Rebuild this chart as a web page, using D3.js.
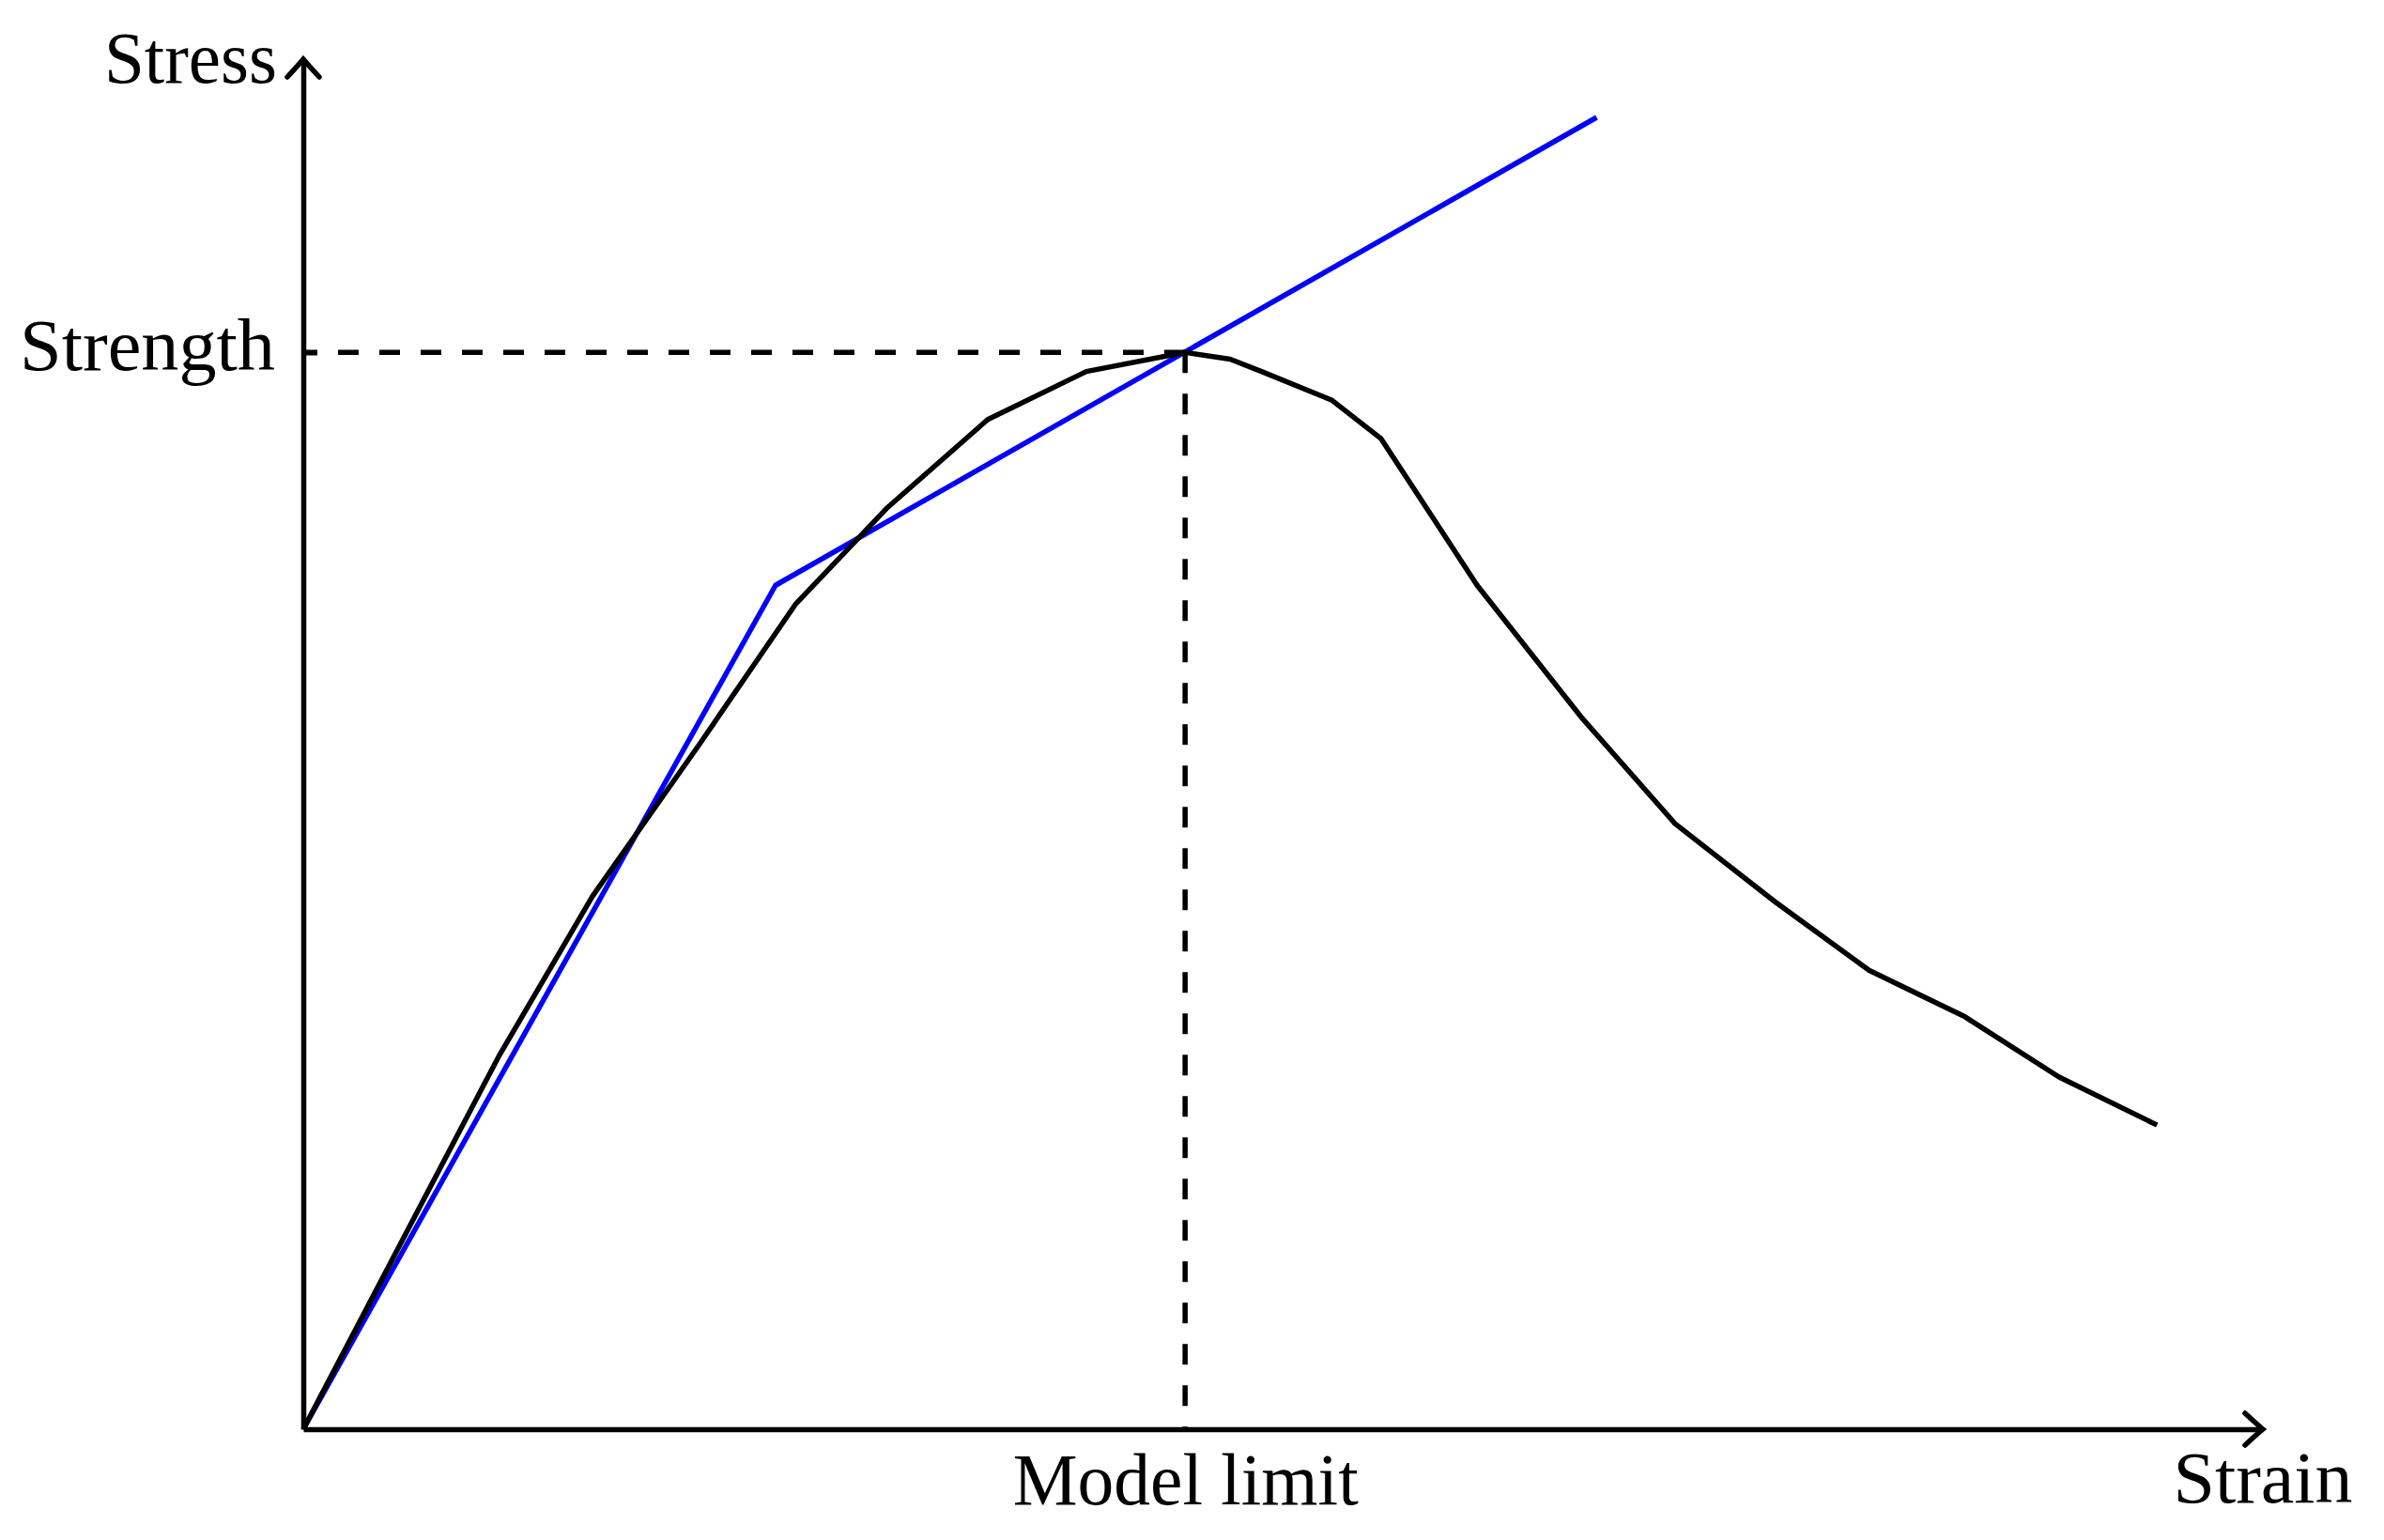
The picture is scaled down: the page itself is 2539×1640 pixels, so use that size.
<!DOCTYPE html>
<html>
<head>
<meta charset="utf-8">
<script src="https://cdn.jsdelivr.net/npm/d3@7"></script>
<style>
  html, body { margin: 0; padding: 0; background: #fff; }
  svg { display: block; }
  text { font-family: "Liberation Serif", "Times New Roman", serif; fill: #000; }
</style>
</head>
<body>
<svg id="chart" width="2539" height="1640"></svg>
<script>
// ---- Data (arbitrary units) ----
const measuredStrain = [0, 9.97, 14.76, 20.22, 25.11, 29.76, 34.93, 39.96, 45.0, 47.3, 48.9, 52.5, 55.0, 59.9, 65.2, 70.0, 75.1, 79.9, 84.8, 89.6, 94.6];
const measuredStress = [0, 27.2, 38.9, 50.0, 60.2, 67.2, 73.7, 77.2, 78.6, 78.1, 77.2, 75.1, 72.3, 61.6, 52.0, 44.2, 38.5, 33.5, 30.1, 25.7, 22.2];

const modelStrain = [0, 24.1, 66.0];
const modelStress = [0, 61.6, 95.75];

const strengthValue = 78.6;
const modelLimitValue = 45.0;

const axisLabels = { x: "Strain", y: "Stress" };
const yTickLabels = ["Strength"];
const xTickLabels = ["Model limit"];

const strainMax = 100;
const stressMax = 100;

// ---- Layout ----
const svg = d3.select("#chart");
const FS = 78;
const LW = 5.5;
const x = d3.scaleLinear().domain([0, strainMax]).range([323, 2410]);
const y = d3.scaleLinear().domain([0, stressMax]).range([1522, 63]);

svg.append("rect").attr("width", 2539).attr("height", 1640).attr("fill", "#fff");

const line = d3.line().x(d => x(d[0])).y(d => y(d[1]));

// Dashed guide lines
svg.append("path")
  .attr("d", line([[0, strengthValue], [modelLimitValue, strengthValue]]))
  .attr("fill", "none").attr("stroke", "#000").attr("stroke-width", LW)
  .attr("stroke-dasharray", "22,22").attr("stroke-dashoffset", 7);
svg.append("path")
  .attr("d", line([[modelLimitValue, strengthValue], [modelLimitValue, 0]]))
  .attr("fill", "none").attr("stroke", "#000").attr("stroke-width", LW)
  .attr("stroke-dasharray", "22,22");

// Model (blue) line
svg.append("path")
  .attr("d", line(modelStrain.map((s, i) => [s, modelStress[i]])))
  .attr("fill", "none").attr("stroke", "#0000ff").attr("stroke-width", LW)
  .attr("stroke-linejoin", "round");

// Measured (black) curve
svg.append("path")
  .attr("d", line(measuredStrain.map((s, i) => [s, measuredStress[i]])))
  .attr("fill", "none").attr("stroke", "#000").attr("stroke-width", LW)
  .attr("stroke-linejoin", "round");

// Axes
const yAxis = d3.axisLeft(y)
  .tickValues([strengthValue])
  .tickFormat((d, i) => yTickLabels[i])
  .tickSizeInner(-15).tickSizeOuter(0).tickPadding(30);
const gy = svg.append("g").attr("transform", `translate(${x(0)},0)`).call(yAxis);
gy.attr("font-family", null).attr("font-size", null);
gy.select(".domain").attr("stroke-width", LW);
gy.selectAll(".tick line").attr("stroke-width", LW);
gy.selectAll(".tick text").attr("font-size", FS).attr("dy", "0.23em")
  .attr("textLength", 272).attr("lengthAdjust", "spacingAndGlyphs");

const xAxis = d3.axisBottom(x)
  .tickValues([modelLimitValue])
  .tickFormat((d, i) => xTickLabels[i])
  .tickSizeInner(0).tickSizeOuter(0).tickPadding(25);
const gx = svg.append("g").attr("transform", `translate(0,${y(0)})`).call(xAxis);
gx.attr("font-family", null).attr("font-size", null);
gx.select(".domain").attr("stroke-width", LW);
gx.selectAll(".tick text").attr("font-size", FS)
  .attr("textLength", 368).attr("lengthAdjust", "spacingAndGlyphs");

// Arrow heads
function arrowUp(px, py) {
  return `M${px - 17},${py + 19} Q${px - 5},${py + 6} ${px},${py} Q${px + 5},${py + 6} ${px + 17},${py + 19}`;
}
function arrowRight(px, py) {
  return `M${px - 19},${py - 17} Q${px - 6},${py - 5} ${px},${py} Q${px - 6},${py + 5} ${px - 19},${py + 17}`;
}
svg.append("path").attr("d", arrowUp(x(0), y(stressMax)))
  .attr("fill", "none").attr("stroke", "#000").attr("stroke-width", LW).attr("stroke-linecap", "round");
svg.append("path").attr("d", arrowRight(x(strainMax), y(0)))
  .attr("fill", "none").attr("stroke", "#000").attr("stroke-width", LW).attr("stroke-linecap", "round");

// Axis titles
svg.append("text").attr("x", x(0) - 28).attr("y", 88)
  .attr("text-anchor", "end").attr("font-size", FS)
  .attr("textLength", 184).attr("lengthAdjust", "spacingAndGlyphs").text(axisLabels.y);
svg.append("text").attr("x", x(strainMax)).attr("y", 1600)
  .attr("text-anchor", "middle").attr("font-size", FS)
  .attr("textLength", 191).attr("lengthAdjust", "spacingAndGlyphs").text(axisLabels.x);
</script>
</body>
</html>
